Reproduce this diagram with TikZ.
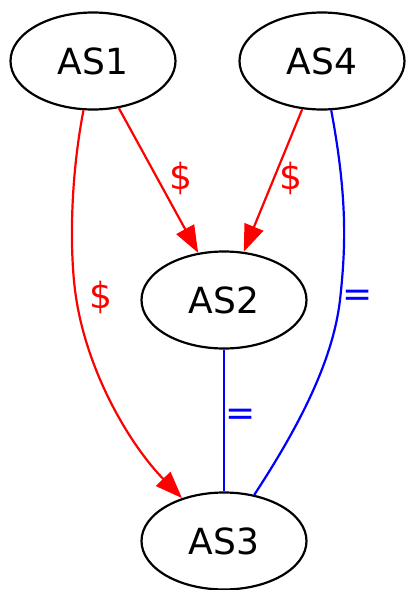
\documentclass[tikz,border=0pt]{standalone}
\usepackage{fontspec}
\setmainfont{DejaVu Sans}
\usepackage{xcolor}
\usepackage{tikz}
\usetikzlibrary{arrows.meta,shapes.geometric}

\begin{document}
\begin{tikzpicture}[x=1pt, y=-1pt, line width=2.2pt, every node/.style={font=\fontsize{36}{43}\selectfont},
    as/.style={draw, ellipse, inner sep=0pt, minimum width=165pt, minimum height=97pt},
    dollar/.style={draw=red, -{Triangle[length=27pt, width=20pt]}},
    peer/.style={draw=blue},
    dlbl/.style={text=red, inner sep=0pt},
    plbl/.style={text=blue, inner sep=0pt}]
      \useasboundingbox (0,0) rectangle (406,590);
      \node[as] (as1) at (93,61) {AS1};
      \node[as] (as4) at (322,61) {AS4};
      \node[as] (as2) at (224,300) {AS2};
      \node[as] (as3) at (224,541) {AS3};
      % customer-provider edges
      \draw[dollar] (as1) -- (as2);
      \draw[dollar] (as4) -- (as2);
      \draw[dollar] (as1) .. controls (70,180) and (70,250) .. (75,290)
                          .. controls (85,370) and (130,445) .. (as3);
      % peer edges
      \draw[peer] (as2) -- (as3);
      \draw[peer] (as4) .. controls (348,200) and (345.5,250) .. (340,300)
                        .. controls (333,360) and (300,425) .. (as3);
      \node[dlbl] (l12) at (181,178) {\$};
      \node[dlbl] (l42) at (291,178) {\$};
      \node[dlbl] (l13) at (101,297) {\$};
      \node[plbl] (l43) at (358,298) {=};
      \node[plbl] (l23) at (241,417) {=};
    \end{tikzpicture}
\end{document}
